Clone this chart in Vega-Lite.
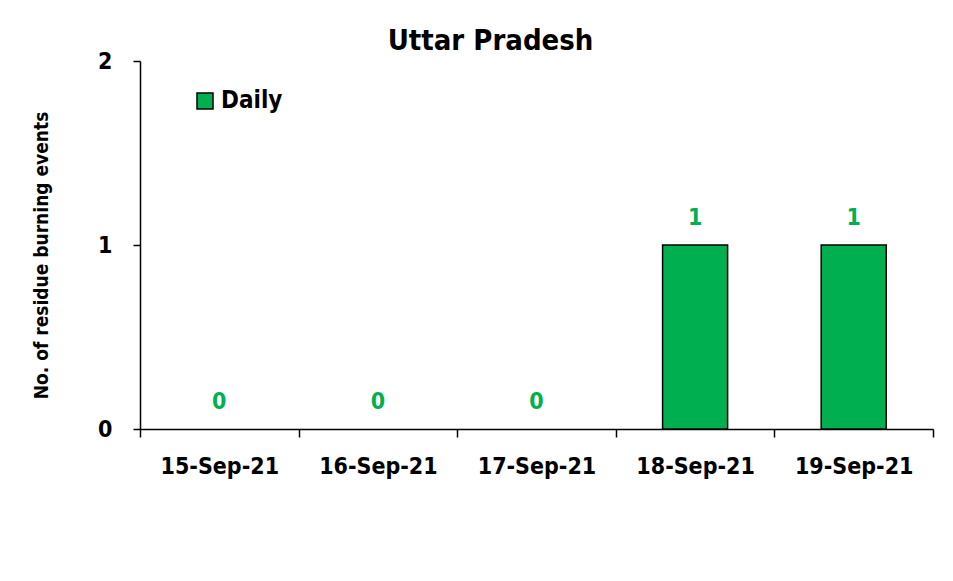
{
  "$schema": "https://vega.github.io/schema/vega-lite/v6.json",
  "width": 793,
  "height": 368,
  "autosize": {"type": "none"},
  "padding": {"left": 140, "top": 61, "right": 20, "bottom": 152},
  "background": "white",
  "title": {
    "text": "Uttar Pradesh",
    "anchor": "middle",
    "frame": "group",
    "dx": -46,
    "offset": -6,
    "font": "DejaVu Sans Condensed, Lato, sans-serif",
    "fontSize": 29,
    "fontWeight": "bold",
    "color": "black"
  },
  "data": {
    "values": [
      {"date": "15-Sep-21", "count": 0, "series": "Daily"},
      {"date": "16-Sep-21", "count": 0, "series": "Daily"},
      {"date": "17-Sep-21", "count": 0, "series": "Daily"},
      {"date": "18-Sep-21", "count": 1, "series": "Daily"},
      {"date": "19-Sep-21", "count": 1, "series": "Daily"}
    ]
  },
  "encoding": {
    "x": {
      "field": "date",
      "type": "nominal",
      "sort": null,
      "scale": {
        "domain": ["15-Sep-21", "16-Sep-21", "17-Sep-21", "18-Sep-21", "19-Sep-21"],
        "paddingInner": 0,
        "paddingOuter": 0
      },
      "axis": {
        "title": null,
        "labelAngle": 0,
        "tickBand": "extent",
        "tickSize": 8,
        "tickColor": "black",
        "domainColor": "black",
        "labelPadding": 18,
        "labelFont": "DejaVu Sans Condensed, Lato, sans-serif",
        "labelFontSize": 23,
        "labelFontWeight": "bold",
        "labelColor": "black"
      }
    },
    "y": {
      "field": "count",
      "type": "quantitative",
      "scale": {"domain": [0, 2], "nice": false},
      "axis": {
        "tickCount": 2,
        "labelOverlap": false,
        "format": "d",
        "grid": false,
        "title": "No. of residue burning events",
        "titleFont": "DejaVu Sans Condensed, Lato, sans-serif",
        "titleFontSize": 19,
        "titleFontWeight": "bold",
        "titleColor": "black",
        "titlePadding": 46,
        "titleY": 194,
        "tickSize": 7,
        "tickColor": "black",
        "domainColor": "black",
        "labelPadding": 21,
        "labelFont": "DejaVu Sans Condensed, Lato, sans-serif",
        "labelFontSize": 23,
        "labelFontWeight": "bold",
        "labelColor": "black"
      }
    }
  },
  "layer": [
    {
      "transform": [{"filter": "datum.count > 0"}],
      "mark": {"type": "bar", "stroke": "black", "strokeWidth": 1.5, "width": {"band": 0.41}},
      "encoding": {
        "color": {
          "field": "series",
          "type": "nominal",
          "scale": {"range": ["#00B050"]},
          "legend": {
            "title": null,
            "orient": "none",
            "legendX": 53,
            "legendY": 28,
            "symbolType": "square",
            "symbolSize": 256,
            "symbolStrokeColor": "black",
            "symbolStrokeWidth": 1.5,
            "labelFont": "DejaVu Sans Condensed, Lato, sans-serif",
            "labelFontSize": 24,
            "labelFontWeight": "bold",
            "labelColor": "black",
            "labelOffset": 4
          }
        }
      }
    },
    {
      "mark": {
        "type": "text",
        "baseline": "alphabetic",
        "dy": -20,
        "font": "DejaVu Sans Condensed, Lato, sans-serif",
        "fontSize": 23,
        "fontWeight": "bold",
        "color": "#00B050"
      },
      "encoding": {
        "text": {"field": "count", "type": "quantitative"}
      }
    }
  ],
  "config": {
    "view": {"stroke": null},
    "axis": {"domainWidth": 1.5, "tickWidth": 1.5}
  }
}
